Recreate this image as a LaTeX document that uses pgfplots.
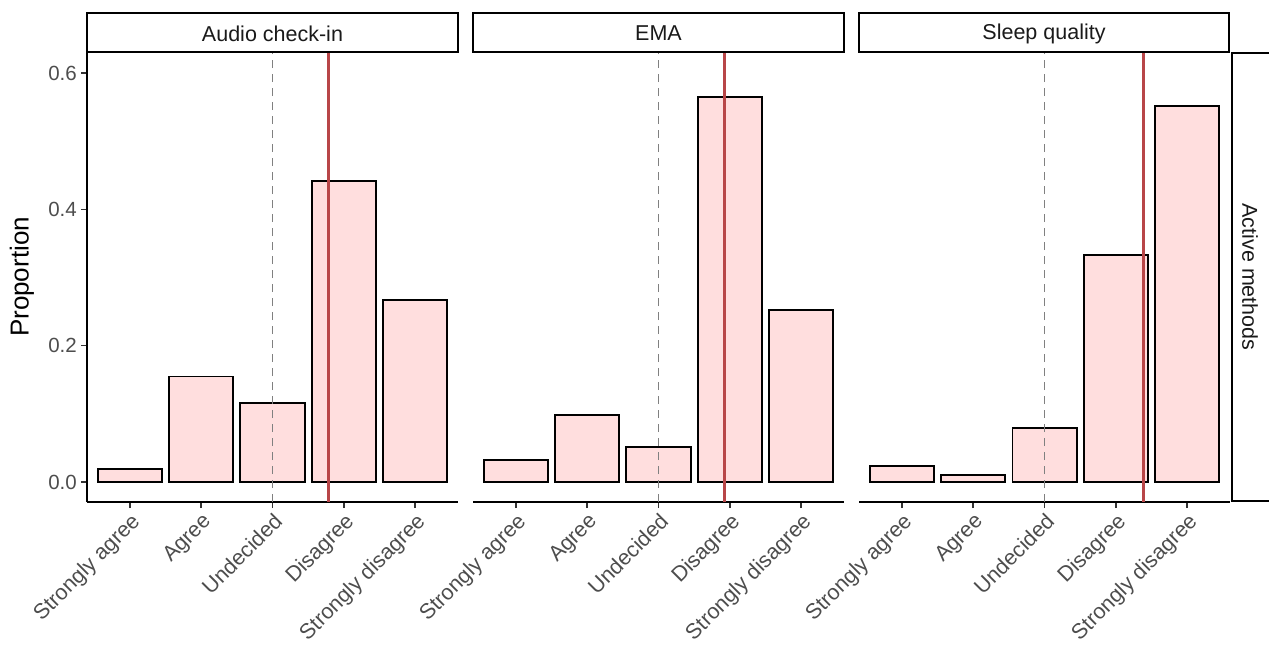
\documentclass[border=0pt]{standalone}
\usepackage{pgfplots}
\pgfplotsset{compat=1.18}
\usepackage{fontspec}
\setmainfont{Liberation Sans}
\definecolor{barfill}{RGB}{255,222,222}
\definecolor{meanred}{RGB}{184,70,72}
\definecolor{dashgray}{RGB}{128,128,128}
\definecolor{tickgray}{RGB}{77,77,77}
\definecolor{tickcol}{RGB}{51,51,51}
\definecolor{striptext}{RGB}{26,26,26}
\pgfplotsset{
  panel/.style={
    scale only axis, width=371bp, height=450bp,
    xmin=0.4, xmax=5.6, ymin=-0.0293, ymax=0.631,
    xtick={1,2,3,4,5},
    xticklabels={Strongly agree,Agree,Undecided,Disagree,Strongly disagree},
    xticklabel style={rotate=45, anchor=north east, font=\fontsize{21.5bp}{25bp}\selectfont, text=tickgray, inner sep=2.5bp},
    yticklabel style={font=\fontsize{20.5bp}{24bp}\selectfont, text=tickgray, inner sep=4bp},
    tick align=outside, major tick length=6bp,
    tick style={line width=1.5bp, color=tickcol},
    axis line style={line width=2bp, -, black},
    /pgf/number format/assume math mode=true,
    anchor=south west,
  },
  bars/.style={ybar, bar width=0.9, fill=barfill, draw=black, line width=1.8bp},
  meanline/.style={meanred, line width=3bp, no markers},
  midline/.style={dashgray, line width=1.7bp, dash pattern=on 8bp off 6bp, no markers},
}
\begin{document}
\begin{tikzpicture}
\path[use as bounding box] (0,0) rectangle (1269bp,-650bp);
% Panel 1
\begin{axis}[panel, at={(87bp,-502bp)}, axis x line*=bottom, axis y line*=left,
  ytick={0,0.2,0.4,0.6}, yticklabels={0.0,0.2,0.4,0.6}]
\addplot[bars] coordinates {(1,0.019) (2,0.155) (3,0.116) (4,0.4415) (5,0.267)};
\addplot[midline] coordinates {(3,-0.0293) (3,0.631)};
\addplot[meanline] coordinates {(3.78,-0.0293) (3.78,0.631)};
\end{axis}
% Panel 2
\begin{axis}[panel, at={(473bp,-502bp)}, axis x line*=bottom, axis y line=none]
\addplot[bars] coordinates {(1,0.032) (2,0.098) (3,0.051) (4,0.565) (5,0.252)};
\addplot[midline] coordinates {(3,-0.0293) (3,0.631)};
\addplot[meanline] coordinates {(3.92,-0.0293) (3.92,0.631)};
\end{axis}
% Panel 3
\begin{axis}[panel, at={(859bp,-502bp)}, axis x line*=bottom, axis y line=none]
\addplot[bars] coordinates {(1,0.023) (2,0.0105) (3,0.079) (4,0.333) (5,0.552)};
\addplot[midline] coordinates {(3,-0.0293) (3,0.631)};
\addplot[meanline] coordinates {(4.39,-0.0293) (4.39,0.631)};
\end{axis}
% strips
\begin{scope}[line width=2bp]
\draw[fill=white] (87bp,-13bp) rectangle (458bp,-52bp);
\draw[fill=white] (473bp,-13bp) rectangle (844bp,-52bp);
\draw[fill=white] (859bp,-13bp) rectangle (1229bp,-52bp);
\draw[fill=white] (1232bp,-53bp) rectangle (1272bp,-501bp);
\end{scope}
\node[text=striptext, font=\fontsize{21.5bp}{25bp}\selectfont] at (272.5bp,-33.5bp) {Audio check-in};
\node[text=striptext, font=\fontsize{21.5bp}{25bp}\selectfont] at (658.5bp,-33.5bp) {EMA};
\node[text=striptext, font=\fontsize{21.5bp}{25bp}\selectfont] at (1044bp,-33.5bp) {Sleep quality};
\node[text=striptext, rotate=-90, font=\fontsize{21.5bp}{25bp}\selectfont] at (1250bp,-277bp) {Active methods};
\node[rotate=90, font=\fontsize{26bp}{30bp}\selectfont] at (22bp,-277bp) {Proportion};
\end{tikzpicture}
\end{document}
